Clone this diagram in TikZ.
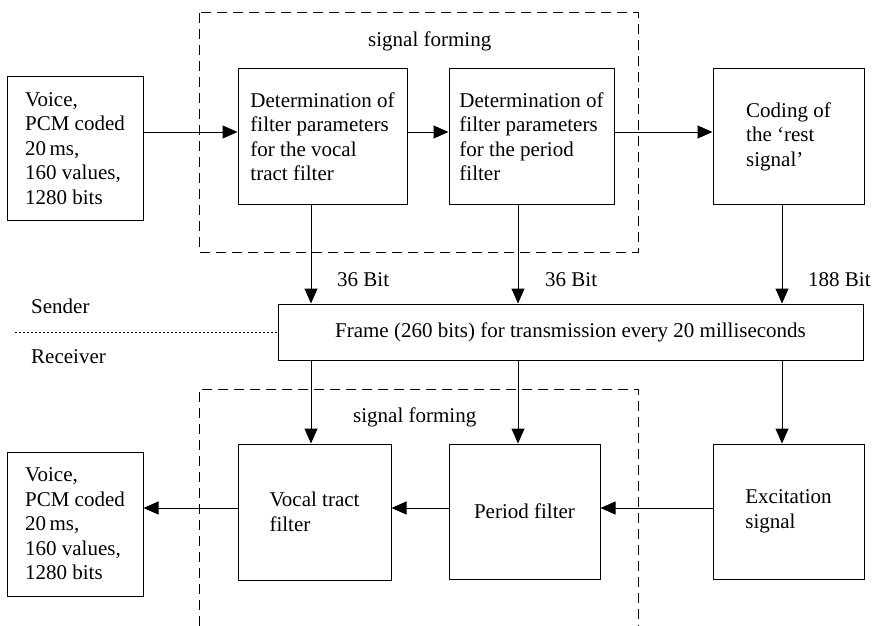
\documentclass[tikz,border=0pt]{standalone}
\usepackage{fontspec}
\setmainfont{Liberation Serif}
\usepackage{tikz}
\usetikzlibrary{arrows.meta}
\tikzstyle{block}=[draw=black,line width=1pt,rectangle,align=left,inner sep=0pt]
\tikzstyle{arr}=[line width=1pt,-{Triangle[length=15pt,width=13pt]}]
\tikzstyle{group}=[line width=1pt,dash pattern=on 10pt off 6pt]
\tikzstyle{lbl}=[anchor=west,inner sep=0pt]

\begin{document}
\begin{tikzpicture}[x=1pt,y=-1pt,font=\fontsize{21}{24.5}\selectfont]
        \useasboundingbox (0,0) rectangle (876,626);

        % dashed groups
        \draw[group] (199,13) rectangle (638,252);
        \draw[group] (199,626) |- (638,389) -- (638,626);
        \node[lbl] (sf1) at (368,41) {signal forming};
        \node[lbl] (sf2) at (353,417) {signal forming};

        % sender side
        \node[block,minimum width=136pt,minimum height=143pt] (voiceIn) at (75,148.5)
          {Voice,\\PCM coded\\20\,ms,\\160 values,\\1280 bits};
        \node[block,minimum width=169pt,minimum height=135pt] (det1) at (322.5,136.5)
          {Determination of\\filter parameters\\for the vocal\\tract filter};
        \node[block,minimum width=165pt,minimum height=135pt] (det2) at (531.5,136.5)
          {Determination of\\filter parameters\\for the period\\filter};
        \node[block,minimum width=151pt,minimum height=135pt] (coding) at (788.5,136.5)
          {Coding of\\the `rest\\signal'};

        \node[block,minimum width=585pt,minimum height=56pt,align=center] (frame) at (570.5,332)
          {Frame (260 bits) for transmission every 20 milliseconds};

        % receiver side
        \node[block,minimum width=153pt,minimum height=136pt] (vocal) at (314.5,512)
          {Vocal tract\\filter};
        \node[block,minimum width=151pt,minimum height=135pt] (period) at (524.5,511.5)
          {Period filter};
        \node[block,minimum width=151pt,minimum height=135pt] (excit) at (788.5,511.5)
          {Excitation\\signal};
        \node[block,minimum width=136pt,minimum height=144pt] (voiceOut) at (75,524)
          {Voice,\\PCM coded\\20\,ms,\\160 values,\\1280 bits};

        \coordinate (r1) at (0,132);
        \coordinate (r2) at (0,508);
        \coordinate (c1) at (311,0);
        \coordinate (c2) at (518,0);
        \coordinate (c3) at (782,0);
        \coordinate (d0) at (15,332);

        \draw[arr] (voiceIn.east |- r1) -- (det1.west |- r1);
        \draw[arr] (det1.east |- r1) -- (det2.west |- r1);
        \draw[arr] (det2.east |- r1) -- (coding.west |- r1);

        \draw[arr] (det1.south -| c1) -- (frame.north -| c1);
        \draw[arr] (det2.south -| c2) -- (frame.north -| c2);
        \draw[arr] (coding.south -| c3) -- (frame.north -| c3);

        \draw[arr] (frame.south -| c1) -- (vocal.north -| c1);
        \draw[arr] (frame.south -| c2) -- (period.north -| c2);
        \draw[arr] (frame.south -| c3) -- (excit.north -| c3);

        \draw[arr] (excit.west |- r2) -- (period.east |- r2);
        \draw[arr] (period.west |- r2) -- (vocal.east |- r2);
        \draw[arr] (vocal.west |- r2) -- (voiceOut.east |- r2);

        \node[lbl] (b1) at (337,280) {36 Bit};
        \node[lbl] (b2) at (545,280) {36 Bit};
        \node[lbl] (b3) at (808,280) {188 Bit};

        \draw[line width=1pt,dash pattern=on 2pt off 2pt] (d0) -- (frame.west);
        \node[lbl] (snd) at (31,306) {Sender};
        \node[lbl] (rcv) at (31,357) {Receiver};
      \end{tikzpicture}
\end{document}
